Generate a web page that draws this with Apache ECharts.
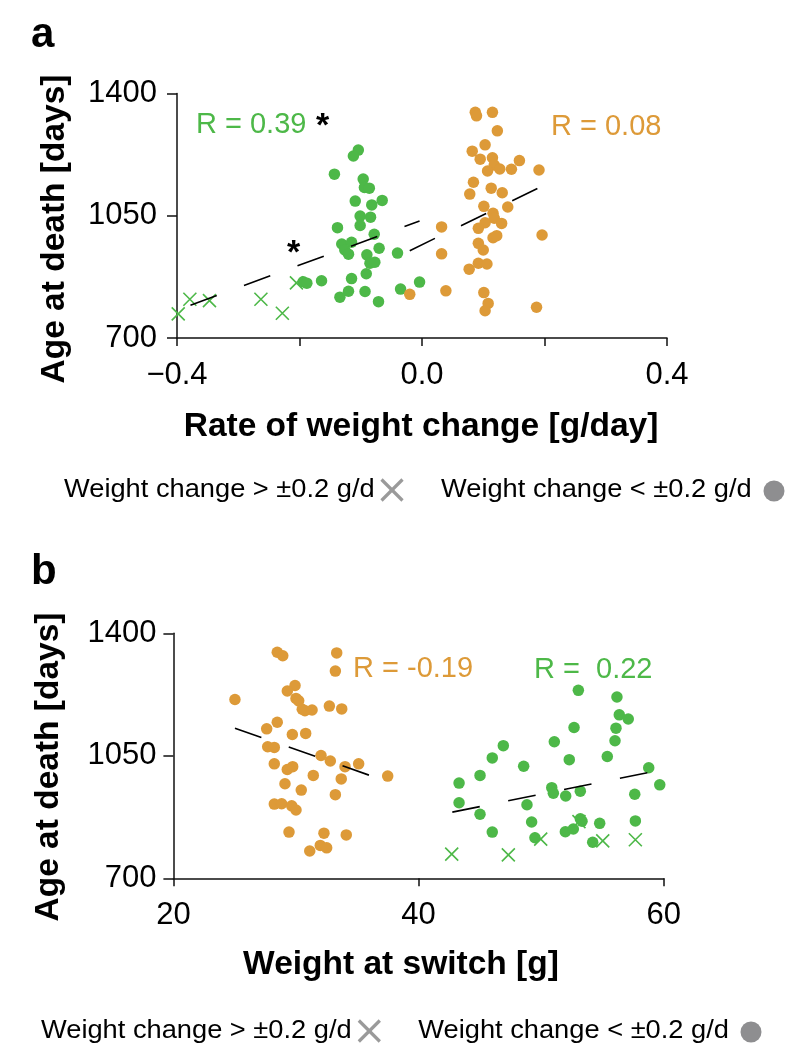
<!DOCTYPE html>
<html><head><meta charset="utf-8">
<script src="https://cdn.jsdelivr.net/npm/echarts@6/dist/echarts.min.js"></script>
<style>html,body{margin:0;padding:0;background:#fff}#c{width:800px;height:1062px}</style>
</head><body><div id="c"></div>
<script>
// ---------- Panel a: rate of weight change [g/day] vs age at death [days]
const aGreenDots = [[-0.104,1238],[-0.112,1221],[-0.143,1169],[-0.096,1155],[-0.094,1131],[-0.086,1129],[-0.109,1092],[-0.082,1081],[-0.065,1094],[-0.101,1049],[-0.084,1046],[-0.101,1022],[-0.138,1016],[-0.078,997],[-0.131,969],[-0.115,974],[-0.126,952],[-0.120,940],[-0.070,957],[-0.090,938],[-0.085,914],[-0.077,917],[-0.091,884],[-0.040,943],[-0.115,870],[-0.120,834],[-0.134,817],[-0.093,833],[-0.071,804],[-0.035,840],[-0.004,860],[-0.194,861],[-0.188,857],[-0.164,864]];
const aGreenCross = [[-0.379,811],[-0.347,807],[-0.398,769],[-0.263,811],[-0.228,771],[-0.205,858]];
const aOrangeDots = [[0.087,1346],[0.089,1336],[0.115,1346],[0.123,1293],[0.103,1253],[0.082,1235],[0.095,1212],[0.115,1216],[0.118,1195],[0.127,1184],[0.107,1178],[0.146,1183],[0.159,1208],[0.191,1181],[0.084,1146],[0.113,1129],[0.078,1112],[0.131,1116],[0.140,1075],[0.101,1077],[0.116,1057],[0.118,1043],[0.130,1028],[0.103,1030],[0.092,1014],[0.116,987],[0.122,993],[0.032,1018],[0.196,995],[0.092,971],[0.100,952],[0.032,941],[0.092,914],[0.106,912],[0.077,897],[-0.020,825],[0.039,835],[0.101,830],[0.108,799],[0.103,778],[0.187,788]];
const aGreenFit = [[-0.378,794],[-0.004,1035]];
const aOrangeFit = [[-0.020,950],[0.194,1133]];
const aXTicks = [-0.4, 0.0, 0.4];
// ---------- Panel b: weight at switch [g] vs age at death [days]
const bOrangeDots = [[28.47,1346],[28.92,1336],[33.32,1344],[33.21,1292],[25.02,1211],[29.92,1251],[29.29,1235],[30.00,1214],[30.22,1207],[30.51,1183],[30.73,1179],[31.31,1181],[32.72,1192],[33.73,1184],[28.47,1146],[27.61,1127],[29.70,1111],[30.79,1114],[27.69,1076],[28.23,1074],[32.04,1051],[32.80,1035],[28.23,1027],[29.29,1011],[29.73,1019],[34.00,1019],[35.11,1027],[37.48,992],[31.41,994],[33.69,984],[29.10,970],[30.43,952],[33.21,939],[28.23,912],[28.83,913],[29.65,907],[30.00,895],[29.43,832],[32.28,829],[34.10,824],[31.98,794],[32.50,787],[31.12,778]];
const bGreenDots = [[53.03,1237],[56.18,1218],[56.37,1167],[57.10,1155],[56.10,1129],[52.68,1131],[56.02,1093],[51.07,1090],[46.91,1079],[46.01,1044],[55.39,1048],[52.29,1039],[48.57,1020],[58.77,1016],[45.01,994],[43.30,972],[59.67,967],[50.86,959],[50.99,943],[53.19,949],[52.00,935],[57.63,940],[43.30,916],[48.84,910],[45.01,883],[49.22,861],[53.19,870],[53.33,863],[54.77,857],[57.68,864],[46.01,832],[51.97,833],[52.62,841],[49.49,816],[54.20,803]];
const bGreenCross = [[42.70,769],[47.32,767],[49.96,812],[53.08,862],[55.02,807],[57.68,810]];
const bOrangeFit = [[25.02,1129],[37.48,976]];
const bGreenFit = [[42.75,889],[59.67,1009]];
const yTicks = [700, 1050, 1400];
const legendLabels = ['Weight change > \u00B10.2 g/d', 'Weight change < \u00B10.2 g/d'];

const GREEN = '#4DB848', ORANGE = '#DD9A38', INK = '#111';
const FONT = "'Liberation Sans', Arial, Helvetica, sans-serif";
const CROSS = 'path://M0,0L10,10M0,10L10,0';

const chart = echarts.init(document.getElementById('c'), null, {renderer: 'canvas'});

function axisCommon() {
  return {
    axisLine: {show: true, onZero: false, lineStyle: {color: INK, width: 1.5}},
    axisTick: {show: true, inside: false, lineStyle: {color: INK, width: 1.5}},
    splitLine: {show: false},
    axisLabel: {color: '#000', fontFamily: FONT, fontSize: 31}
  };
}
function xAx(grid, min, max, interval, labels, fmt, margin) {
  const c = axisCommon();
  c.axisTick.length = 8;
  c.axisLabel.margin = margin;
  c.axisLabel.formatter = v => {
    const hit = labels.find(t => Math.abs(t - v) < 1e-6);
    return hit === undefined ? '' : fmt(hit);
  };
  c.axisLabel.showMinLabel = true; c.axisLabel.showMaxLabel = true;
  return Object.assign({type: 'value', gridIndex: grid, min, max, interval}, c);
}
function yAx(grid, margin) {
  const c = axisCommon();
  c.axisTick.length = 10;
  c.axisLabel.margin = margin;
  c.axisLabel.formatter = v => yTicks.indexOf(v) >= 0 ? String(v) : '';
  return Object.assign({type: 'value', gridIndex: grid, min: 700, max: 1400, interval: 350}, c);
}
const fmtA = v => (v < 0 ? '\u2212' : '') + Math.abs(v).toFixed(1);
const fmtB = v => String(v);

function dots(xi, data, color) {
  return {type: 'scatter', xAxisIndex: xi, yAxisIndex: xi, data, symbol: 'circle', symbolSize: 11.5,
    itemStyle: {color, opacity: 1}, silent: true, z: 3};
}
function crosses(xi, data, color) {
  return {type: 'scatter', xAxisIndex: xi, yAxisIndex: xi, data, symbol: CROSS, symbolSize: 13,
    itemStyle: {color: 'rgba(0,0,0,0)', borderColor: color, borderWidth: 1.6, opacity: 1}, silent: true, z: 3};
}
function fit(xi, data) {
  return {type: 'line', xAxisIndex: xi, yAxisIndex: xi, data, symbol: 'none', showSymbol: false, silent: true, z: 5,
    lineStyle: {color: '#000', width: 1.6, type: [28, 29]}};
}

function txt(x, y, text, opts, extra) {
  return Object.assign({type: 'text', x, y, silent: true, style: Object.assign({text, fill: '#000', font: '29px ' + FONT, textAlign: 'left', textVerticalAlign: 'middle'}, opts || {})}, extra || {});
}
function legendRow(y, x1, xc, x2, xd) {
  const s = {font: '25px ' + FONT};
  const k = {scaleX: 1.09};
  return [
    txt(x1, y, legendLabels[0], s, k),
    {type: 'line', silent: true, shape: {x1: xc - 10.5, y1: y - 10.5, x2: xc + 10.5, y2: y + 10.5}, style: {stroke: '#9a9a9a', lineWidth: 3.2}},
    {type: 'line', silent: true, shape: {x1: xc - 10.5, y1: y + 10.5, x2: xc + 10.5, y2: y - 10.5}, style: {stroke: '#9a9a9a', lineWidth: 3.2}},
    txt(x2, y, legendLabels[1], s, k),
    {type: 'circle', silent: true, shape: {cx: xd, cy: y + 1, r: 10.5}, style: {fill: '#8e8e90'}}
  ];
}

const option = {
  animation: false,
  backgroundColor: '#fff',
  grid: [
    {left: 177, top: 93.5, width: 490, height: 244.5},
    {left: 173.4, top: 633.3, width: 490.4, height: 245}
  ],
  xAxis: [
    xAx(0, -0.4, 0.4, 0.2, aXTicks, fmtA, 22),
    xAx(1, 20, 60, 20, [20, 40, 60], fmtB, 22)
  ],
  yAxis: [yAx(0, 20), yAx(1, 17)],
  series: [
    dots(0, aGreenDots, GREEN), crosses(0, aGreenCross, GREEN), dots(0, aOrangeDots, ORANGE),
    fit(0, aGreenFit), fit(0, aOrangeFit),
    dots(1, bOrangeDots, ORANGE), dots(1, bGreenDots, GREEN), crosses(1, bGreenCross, GREEN),
    fit(1, bOrangeFit), fit(1, bGreenFit)
  ],
  graphic: [
    txt(31, 35, 'a', {font: 'bold 42px ' + FONT}),
    txt(31, 572, 'b', {font: 'bold 42px ' + FONT}),
    // axis titles
    {type: 'text', x: 55, y: 229, rotation: Math.PI / 2, silent: true, style: {text: 'Age at death [days]', fill: '#000', font: 'bold 33.5px ' + FONT, textAlign: 'center', textVerticalAlign: 'middle'}},
    {type: 'text', x: 49, y: 767, rotation: Math.PI / 2, silent: true, style: {text: 'Age at death [days]', fill: '#000', font: 'bold 33.5px ' + FONT, textAlign: 'center', textVerticalAlign: 'middle'}},
    txt(421, 427, 'Rate of weight change [g/day]', {font: 'bold 33.5px ' + FONT, textAlign: 'center'}),
    txt(401, 965, 'Weight at switch [g]', {font: 'bold 33.5px ' + FONT, textAlign: 'center'}),
    // correlation annotations
    txt(196, 125, 'R = 0.39', {fill: GREEN}),
    txt(316, 127, '*', {font: 'bold 34px ' + FONT}),
    txt(287, 254, '*', {font: 'bold 34px ' + FONT}),
    txt(551, 127, 'R = 0.08', {fill: ORANGE}),
    txt(353, 669, 'R = -0.19', {fill: ORANGE}),
    txt(534, 670, 'R =  0.22', {fill: GREEN}),
    ...legendRow(490, 64, 392, 441, 774),
    ...legendRow(1031, 41, 369.3, 418.3, 751)
  ]
};
chart.setOption(option);
</script></body></html>
